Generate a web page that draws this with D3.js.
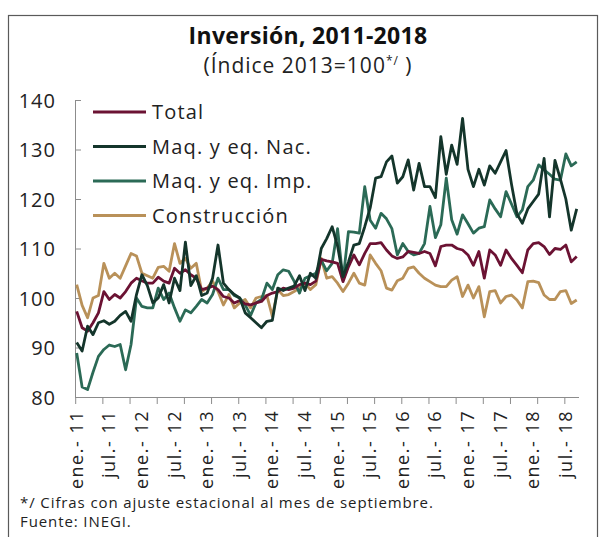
<!DOCTYPE html>
<html>
<head>
<meta charset="utf-8">
<script src="https://cdn.jsdelivr.net/npm/d3@7"></script>
<style>
  body { margin: 0; background: #fff; }
  svg { display: block; font-family: "Open Sans", sans-serif; }
</style>
</head>
<body>
<div id="chart"></div>
<script>
var width = 601;
var height = 537;

// monthly data, ene-2011 .. sep-2018 (93 months)
var total = [
  97.3, 94, 93.3, 95, 97, 101.3, 99.7, 100.7, 100, 101.3, 103, 104,
  103.5, 103, 103, 104.2, 103.4, 103, 106, 105, 105.7, 104.7, 104, 101.7,
  102, 102.4, 101.7, 100.3, 100, 99, 99.5, 98.8, 98.6, 99, 99.3, 100.5,
  101, 101.3, 102, 101.7, 102, 102.7, 103, 102.7, 103.4, 107.8, 107.5, 107.3,
  107, 103.3, 106.3, 108.7, 106.7, 109, 111, 111, 111.2, 109.7, 108.5, 108,
  108.3, 109.4, 109.2, 109, 109.4, 109, 106.5, 110.4, 110.7, 110.7, 110, 109.7,
  108.7, 106.6, 109.4, 104, 109.7, 108.7, 106.6, 109.7, 108, 106.6, 105.1, 109.7,
  111, 111.2, 110.4, 108.8, 110, 109.8, 110.7, 107.3, 108.4
];
var maqNac = [
  91, 89.3, 94.3, 92.6, 95, 95.4, 94.7, 95.3, 96.5, 97.3, 95.3, 100.7,
  104.7, 102.5, 99, 100, 102.7, 99, 104, 101.5, 111.3, 102.5, 104.5, 100.5,
  101, 104, 110.7, 103, 101.7, 100.7, 100, 97, 96, 95, 94, 95.3,
  95.5, 102, 101.5, 102, 102.4, 104.5, 101.5, 105, 104, 110, 112, 114.4,
  110.5, 104.3, 107.3, 110.7, 111, 114.4, 118.2, 124.2, 124.5, 127.5, 128.7, 123.2,
  124.5, 127.9, 121.8, 127.2, 122.5, 122.5, 120.3, 132.6, 125, 130.9, 127, 136.3,
  126, 122.5, 126, 122.8, 126.7, 125.2, 127.5, 129.8, 123, 117, 115.1, 118,
  119.5, 121, 128.2, 116.4, 127.8, 124, 120, 113.7, 118
];
var maqImp = [
  88.9, 82, 81.5, 85, 88.2, 89.6, 90.5, 90.2, 90.6, 85.5, 90.6, 100,
  98.3, 98, 98, 102, 99.7, 101, 98, 95.3, 97.6, 97, 98.3, 99.7,
  99, 100.7, 104, 101.7, 101.7, 100.5, 100, 98.6, 96.5, 99, 99.7, 103,
  101.7, 104.7, 105.7, 105.4, 103.4, 101, 104, 104.5, 105, 107.6, 105.5, 107,
  114, 103.6, 113.4, 113.3, 113.1, 122.5, 115.7, 114.1, 117.1, 116, 114, 108.7,
  111, 109.4, 108.7, 109, 111, 118.5, 112.2, 114.8, 124.2, 115.8, 112.9, 116.8,
  115, 113.1, 114.1, 114.4, 119.8, 118, 116.4, 121.5, 119, 116.4, 117.8, 122.5,
  123.8, 126.9, 125.9, 125, 124, 123.8, 129.1, 126.7, 127.5
];
var construccion = [
  102.7, 98.5, 96, 100, 100.5, 107, 104, 105, 104, 106.5, 109, 108.5,
  105, 104.5, 104, 106.2, 106.4, 105.4, 111, 107, 108, 106, 107, 101.3,
  102, 103.4, 101.3, 98.6, 100.7, 98, 99, 99.7, 98, 100, 100.3, 100.5,
  96.3, 101.7, 100.5, 100.7, 101.3, 102, 103, 101.7, 102.7, 108, 104, 104.3,
  103, 101.3, 103, 105, 103, 102.6, 108.7, 107, 105.5, 102, 101.6, 103.5,
  104, 106, 106.3, 105, 104, 103.3, 102.6, 102.3, 102.3, 103.6, 104.3, 100.3,
  102.6, 100, 102.3, 96.2, 101.3, 101.5, 99, 100.3, 100.6, 99.6, 98, 103.3,
  103.4, 103.1, 100.6, 99.7, 99.7, 101.3, 101.5, 98.9, 99.6
];

var seriesNames = ["Total", "Maq. y eq. Nac.", "Maq. y eq. Imp.", "Construcción"];
var seriesColors = ["#6b1233", "#14352b", "#2b6a56", "#b99159"];
var yTicks = [80, 90, 100, 110, 120, 130, 140];
var xLabels = ["ene.- 11", "jul.- 11", "ene.- 12", "jul.- 12", "ene.- 13", "jul.- 13",
  "ene.- 14", "jul.- 14", "ene.- 15", "jul.- 15", "ene.- 16", "jul.- 16",
  "ene.- 17", "jul.- 17", "ene.- 18", "jul.- 18"];

var allSeries = [total, maqNac, maqImp, construccion];
var nMonths = total.length;

var svg = d3.select("#chart")
  .append("svg")
  .attr("width", width)
  .attr("height", height);

// frame
svg.append("rect")
  .attr("x", 8.5).attr("y", 15.5)
  .attr("width", 589).attr("height", 530)
  .attr("fill", "none")
  .attr("stroke", "#5a5a5a")
  .attr("stroke-width", 1.2);

// title
svg.append("text")
  .attr("x", 308).attr("y", 44)
  .attr("text-anchor", "middle")
  .style("font-size", "23px")
  .style("font-weight", "bold")
  .style("letter-spacing", "0.3px")
  .attr("fill", "#111")
  .text("Inversión, 2011-2018");

var sub = svg.append("text")
  .attr("x", 308).attr("y", 73)
  .attr("text-anchor", "middle")
  .style("font-size", "21px")
  .style("letter-spacing", "1px")
  .attr("fill", "#222");
sub.append("tspan").text("(Índice 2013=100");
sub.append("tspan").attr("dy", -8).style("font-size", "12px").text("*/");
sub.append("tspan").attr("dy", 8).text(" )");

// scales
var x = d3.scaleLinear().domain([0, nMonths - 1]).range([76.7, 576.7]);
var y = d3.scaleLinear().domain([80, 140]).range([397, 100]);

// y axis
var yAxis = svg.append("g")
  .attr("transform", "translate(75,0)")
  .call(d3.axisRight(y).tickValues(yTicks).tickSize(6).tickFormat(""));
yAxis.select(".domain").attr("stroke", "#8c8c8c");
yAxis.selectAll(".tick line").attr("stroke", "#8c8c8c");

svg.append("g").selectAll("text")
  .data(yTicks)
  .enter()
  .append("text")
  .attr("x", 56)
  .attr("y", d => y(d) + 7.5)
  .attr("text-anchor", "end")
  .style("font-size", "20px")
  .style("letter-spacing", "1px")
  .attr("fill", "#222")
  .text(d => d);

// x axis
var xTickIdx = d3.range(0, nMonths, 5);
var xAxis = svg.append("g")
  .attr("transform", "translate(0,397)")
  .call(d3.axisBottom(x).tickValues(xTickIdx).tickSize(7).tickFormat("").tickSizeOuter(0));
xAxis.select(".domain").attr("stroke", "#8c8c8c").attr("d", "M75,0.5H579");
xAxis.selectAll(".tick line").attr("stroke", "#8c8c8c").attr("transform", "translate(-1.5,0)");

svg.append("g").selectAll("text")
  .data(xLabels)
  .enter()
  .append("text")
  .attr("transform", (d, i) => `translate(${x(i * 6) + 6},410) rotate(-90)`)
  .attr("text-anchor", "end")
  .style("font-size", "18px")
  .style("letter-spacing", "1.5px")
  .attr("fill", "#222")
  .text(d => d);

// lines
var line = d3.line()
  .x((d, i) => x(i))
  .y(d => y(d));

// draw order: construccion, imp, total, nac on top
[3, 2, 0, 1].forEach(function (k) {
  svg.append("path")
    .datum(allSeries[k])
    .attr("d", line)
    .attr("fill", "none")
    .attr("stroke", seriesColors[k])
    .attr("stroke-width", 2.8)
    .attr("stroke-linejoin", "round");
});

// legend
var legend = svg.append("g").selectAll("g")
  .data(seriesNames)
  .enter()
  .append("g")
  .attr("transform", (d, i) => `translate(93,${112 + i * 34.5})`);

legend.append("line")
  .attr("x1", 0).attr("x2", 53)
  .attr("stroke", (d, i) => seriesColors[i])
  .attr("stroke-width", 3);

legend.append("text")
  .attr("x", 59).attr("y", 7)
  .style("font-size", "20px")
  .style("letter-spacing", "1.2px")
  .attr("fill", "#222")
  .text(d => d);

// footnotes
svg.append("text")
  .attr("x", 20).attr("y", 508)
  .style("font-size", "15px")
  .style("letter-spacing", "0.9px")
  .attr("fill", "#222")
  .text("*/  Cifras con ajuste estacional al mes de septiembre.");
svg.append("text")
  .attr("x", 20).attr("y", 527)
  .style("font-size", "15px")
  .style("letter-spacing", "0.9px")
  .attr("fill", "#222")
  .text("Fuente: INEGI.");
</script>
</body>
</html>
